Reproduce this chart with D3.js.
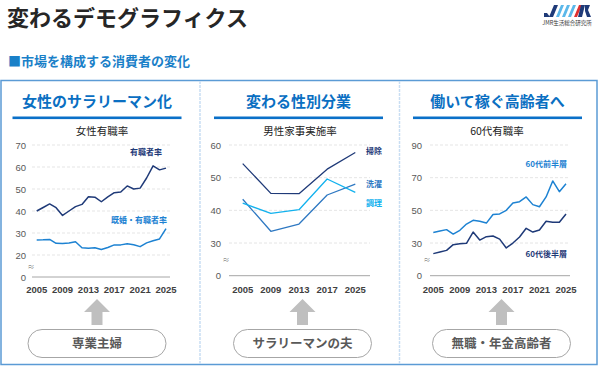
<!DOCTYPE html>
<html><head><meta charset="utf-8">
<script src="https://cdn.jsdelivr.net/npm/d3@7"></script>
<style>
body{margin:0;background:#fff;}
svg{display:block;}
text{font-family:"Noto Sans CJK JP","Noto Sans",sans-serif;}
.num{font-family:"Liberation Sans",Arial,sans-serif;}
</style></head>
<body>
<svg id="c" width="600" height="367"></svg>
<script>
// ---------- data ----------
const years = d3.range(2005, 2026);
const femaleEmployed = [40,41.6,43.2,41.5,38,40,42,43,46.5,46.3,44.2,46.4,48.3,48.6,51.4,50,50.4,55,60.5,58.7,59.5];
const marriedEmployed = [26.8,26.9,27.1,25.3,25.2,25.5,26,23.3,23.1,23.3,22.5,23.4,24.6,24.6,25.1,24.7,23.8,25.5,26.5,27.3,32];
const houseworkYears = ["2005","2009","2013","2017","2025"];
const cleaning = [54.3,45.2,45.1,52.6,57.7];
const laundry = [43.4,33.6,35.8,44.7,48];
const cooking = [42.2,39.1,40.2,49.6,45.5];
const early60s = [36.5,37.4,38.2,35.5,37.8,41.6,43.9,43.3,42.2,47.5,47.8,50,54.5,55.3,58.2,53.5,52.2,58.2,68,61.4,66.3];
const late60s = [23.5,24.5,25.5,29,29.6,29.8,36.7,31.8,33.9,34.3,32.4,27,30,33.7,39,36.7,38,43.3,42.7,42.7,47.8];
const yTicks1 = [0,20,30,40,50,60,70];
const yTicks2 = [0,30,40,50,60];
const yTicks3 = [0,30,50,70,90];
const xTicks1 = [2005,2009,2013,2017,2021,2025];
const panelTitles = ["女性のサラリーマン化","変わる性別分業","働いて稼ぐ高齢者へ"];
const chartTitles = ["女性有職率","男性家事実施率","60代有職率"];
const pillLabels = ["専業主婦","サラリーマンの夫","無職・年金高齢者"];

const NAVY="#1f3a78", BLUE="#1d82d2", MID="#2e78c2", CYAN="#13b2ee";
const svg = d3.select("#c");

// ---------- header ----------
svg.append("text").attr("x",7).attr("y",26).attr("font-size",22).attr("font-weight",700)
  .attr("fill","#262626").text("変わるデモグラフィクス");
svg.append("text").attr("x",8).attr("y",66).attr("font-size",13).attr("font-weight",700)
  .attr("fill","#1a80c8").text("■市場を構成する消費者の変化");

// logo
const logo = svg.append("g").attr("transform","translate(544,5)");
const stripe = (x,w,c)=>logo.append("path").attr("d",`M${x+5},0 L${x+5+w},0 L${x+w},12 L${x},12 Z`).attr("fill",c);
logo.append("path").attr("d","M0,8 L3,8 L6,12 L0,12 Z").attr("fill","#1f3a78");
stripe(5,4,"#1f3a78");
stripe(12,3,"#5bb8ea"); stripe(18,3,"#5bb8ea"); stripe(24,3,"#5bb8ea");
stripe(30,3,"#e03030");
logo.append("path").attr("d","M37,0 L41,0 L38,12 L34,12 Z M41,0 L46,0 L44,5 L47,12 L43,12 L41,6 Z").attr("fill","#1f3a78");
logo.append("text").attr("x",23).attr("y",20).attr("text-anchor","middle").attr("font-size",5.5)
  .attr("fill","#333").text("JMR生活総合研究所");

// ---------- frame ----------
svg.append("rect").attr("x",1).attr("y",80.5).attr("width",596).attr("height",284)
  .attr("fill","none").attr("stroke","#5b9bd5").attr("stroke-width",1.5);
[200,399.5].forEach(x=>svg.append("line").attr("x1",x).attr("x2",x).attr("y1",81).attr("y2",364)
  .attr("stroke","#c9def3").attr("stroke-width",1.5).attr("stroke-dasharray","3,1"));

const centers=[97,298.5,497.5];
panelTitles.forEach((t,i)=>{
  svg.append("text").attr("x",centers[i]).attr("y",107).attr("text-anchor","middle")
    .attr("font-size",15).attr("font-weight",700).attr("fill","#0a6fc2").text(t);
  svg.append("rect").attr("x",centers[i]-84.5).attr("y",116.5).attr("width",169).attr("height",2.6).attr("fill","#0a70c8");
  svg.append("text").attr("x",[102,300,497][i]).attr("y",135).attr("text-anchor","middle")
    .attr("font-size",10.5).attr("fill","#222").text(chartTitles[i]);
});

// ---------- chart helper ----------
function axisY(yScale, ticks, breakAt, x0, x1, labelX){
  const g = svg.append("g");
  ticks.forEach(t=>{
    const y = yScale(t===0?breakAt:t);
    g.append("line").attr("x1",x0).attr("x2",x1).attr("y1",y).attr("y2",y)
      .attr("stroke",t===0?"#a6a6a6":"#dedede").attr("stroke-width",t===0?1:0.8)
      .attr("stroke-dasharray",t===0?null:"3,2");
    g.append("text").attr("class","num").attr("x",labelX).attr("y",y+3.5).attr("text-anchor","end")
      .attr("font-size",9.5).attr("fill","#595959").text(t);
  });
  const yb = (yScale(breakAt)+yScale(ticks[1]))/2 + 1;
  g.append("text").attr("x",labelX+5).attr("y",yb+2).attr("text-anchor","middle")
    .attr("font-size",7).attr("fill","#666").text("≈");
}
function xLabels(xs, ticks, y){
  ticks.forEach(t=>svg.append("text").attr("class","num").attr("x",xs(t)).attr("y",y)
    .attr("text-anchor","middle").attr("font-size",9.5).attr("font-weight",700).attr("fill","#404040").text(t));
}
function line(xs, ys, xv, vals, color, w){
  svg.append("path").datum(vals.map((v,i)=>[xv[i],v]))
    .attr("fill","none").attr("stroke",color).attr("stroke-width",w||1.5).attr("stroke-linejoin","round")
    .attr("d",d3.line().x(d=>xs(d[0])).y(d=>ys(d[1])));
}
function label(x,y,t,c,anchor){
  svg.append("text").attr("x",x).attr("y",y).attr("text-anchor",anchor||"start")
    .attr("font-size",8).attr("font-weight",700).attr("fill",c).text(t);
}

// chart 1
const x1 = d3.scaleLinear().domain([2005,2025]).range([36.7,166]);
const y1 = d3.scaleLinear().domain([10,70]).range([277,145]);
axisY(y1,yTicks1,10,32,170,26);
xLabels(x1,xTicks1,293);
line(x1,y1,years,femaleEmployed,NAVY);
line(x1,y1,years,marriedEmployed,BLUE);
label(162,155,"有職者率",NAVY,"end");
label(167,223,"既婚・有職者率",BLUE,"end");

// chart 2
const x2 = d3.scalePoint().domain(houseworkYears).range([242.7,355.3]);
const y2 = d3.scaleLinear().domain([20,60]).range([275.7,145]);
axisY(y2,yTicks2,20,229,370,221);
xLabels(x2,houseworkYears,293);
line(x2,y2,houseworkYears,cleaning,NAVY,1.3);
line(x2,y2,houseworkYears,laundry,MID,1.3);
line(x2,y2,houseworkYears,cooking,CYAN,1.3);
label(366,154,"掃除",NAVY);
label(366,187,"洗濯",MID);
label(366,206,"調理",CYAN);

// chart 3
const x3 = d3.scaleLinear().domain([2005,2025]).range([433.3,566]);
const y3 = d3.scaleLinear().domain([10,90]).range([275.7,145]);
axisY(y3,yTicks3,10,430,570,422);
xLabels(x3,xTicks1,293);
line(x3,y3,years,early60s,BLUE);
line(x3,y3,years,late60s,NAVY);
label(567,167,"60代前半層",BLUE,"end");
label(567,257,"60代後半層",NAVY,"end");

// ---------- arrows & pills ----------
const pillCenters=[97,302.5,501.5];
pillLabels.forEach((t,i)=>{
  const cx=pillCenters[i];
  svg.append("path").attr("d",`M${cx},299 L${cx+13},312 L${cx+5.5},312 L${cx+5.5},325 L${cx-5.5},325 L${cx-5.5},312 L${cx-13},312 Z`)
    .attr("fill","#bfbfbf");
  svg.append("rect").attr("x",cx-69).attr("y",329.5).attr("width",138).attr("height",28).attr("rx",14)
    .attr("fill","#fff").attr("stroke","#a6a6a6").attr("stroke-width",1);
  svg.append("text").attr("x",cx).attr("y",348).attr("text-anchor","middle")
    .attr("font-size",12.5).attr("font-weight",700).attr("fill","#595959").text(t);
});
</script>
</body></html>
